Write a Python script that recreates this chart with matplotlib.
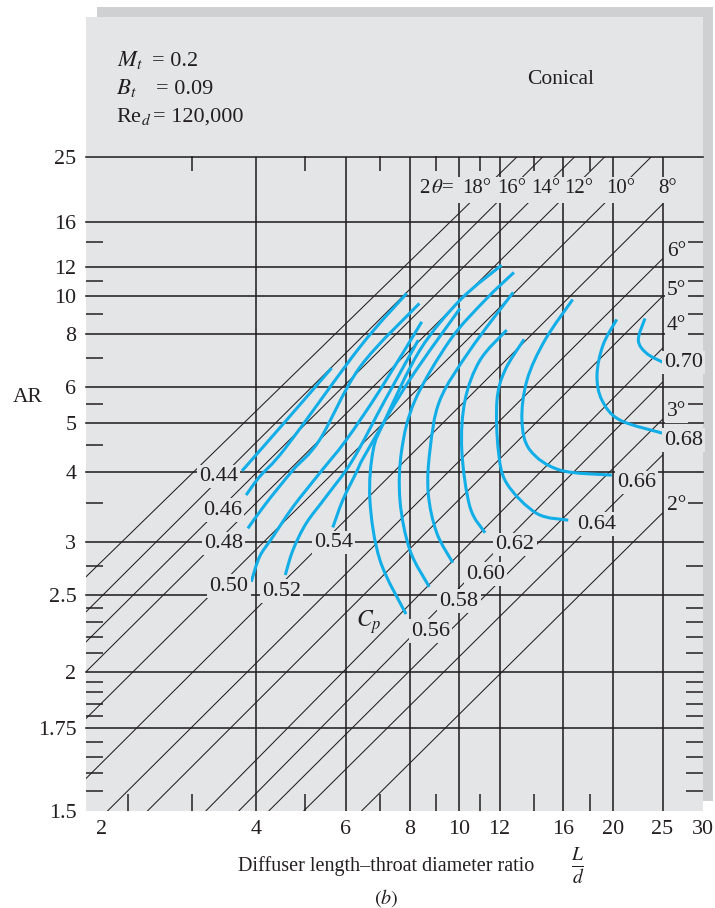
import numpy as np
import matplotlib

matplotlib.use("Agg")
import matplotlib.pyplot as plt
from matplotlib.patches import PathPatch, Rectangle
from matplotlib.path import Path
from matplotlib.ticker import FixedFormatter, FixedLocator, NullFormatter

plt.rcParams["font.family"] = ["Liberation Serif", "DejaVu Serif"]
plt.rcParams["mathtext.fontset"] = "stix"

# --- axis values -----------------------------------------------------------
x_ticks = [2, 4, 6, 8, 10, 12, 16, 20, 25, 30]
x_grid = [4, 6, 8, 10, 12, 16, 20, 25]
x_minor_bottom = [2.25, 3, 5, 7, 9, 11, 14, 18]
x_minor_top = [3, 5, 7, 9, 11, 14, 18]
ar_ticks = [1.5, 1.75, 2, 2.5, 3, 4, 5, 6, 8, 10, 12, 16, 25]
ar_grid = [1.75, 2, 2.5, 3, 4, 5, 6, 8, 10, 12, 16, 25]
ar_minor = [1.55, 1.6, 1.65, 1.7, 1.8, 1.85, 1.9, 1.95, 2.1, 2.2, 2.3, 2.4,
            2.75, 3.5, 4.5, 5.5, 7, 9, 11, 14]

# --- cone angle lines 2θ: lower-left end and upper-right end (L/d, AR) ------
angle_deg = [18, 16, 14, 12, 10, 8, 6, 5, 4, 3.5, 3, 2.5, 2]
angle_ld0 = [1.862, 1.862, 1.862, 1.862, 1.862, 1.862,
             2.054, 2.459, 3.198, 3.71, 4.247, 4.97, 6.45]
angle_ar0 = [2.654, 2.369, 2.168, 2.0, 1.788, 1.585,
             1.5, 1.5, 1.5, 1.5, 1.5, 1.5, 1.5]
angle_ld1 = [13.0, 14.6, 16.85, 19.3, 23.8, 25, 25, 25, 25, 25, 25, 25, 25]
angle_ar1 = [25, 25, 25, 25, 25, 18.0, 12.6, 10.0, 7.4, 6.16, 5.1, 4.305, 3.36]
top_angle_labels = ["18°", "16°", "14°", "12°", "10°", "8°"]
side_angle_labels = ["6°", "5°", "4°", "3°", "2°"]

# --- pressure recovery contours Cp -------------------------------------------
cp_levels = ["0.44", "0.46", "0.48", "0.50", "0.52", "0.54", "0.56",
             "0.58", "0.60", "0.62", "0.64", "0.66", "0.68", "0.70"]
cp_ld = [
    [3.76, 4.61, 5.63],
    [3.83, 4.07, 4.59, 6.40, 7.90],
    [3.86, 4.19, 4.73, 5.33, 6.40, 8.36],
    [3.92, 4.07, 4.32, 4.73, 5.33, 6.01, 7.0, 8.45],
    [4.57, 4.73, 5.02, 5.49, 6.19, 7.16, 8.32],
    [5.66, 5.92, 6.28, 6.57, 8.0, 10.04],
    [7.87, 7.0, 6.69, 6.79, 7.16, 8.38, 10.04, 12.11],
    [8.74, 8.01, 7.66, 7.72, 8.2, 9.6, 11.24, 12.8],
    [9.72, 9.04, 8.70, 8.77, 9.17, 10.5, 12.76],
    [11.24, 10.5, 10.12, 10.27, 10.99, 12.39],
    [16.35, 14.18, 12.39, 11.93, 11.86, 12.3, 13.4],
    [19.89, 15.75, 13.76, 13.27, 13.58, 14.72, 16.68],
    [25.17, 20.64, 19.03, 18.61, 19.12, 20.34],
    [25.17, 23.28, 22.42, 23.1],
]
cp_ar = [
    [4.01, 5.10, 6.64],
    [3.615, 3.91, 4.47, 7.46, 10.18],
    [3.163, 3.494, 4.025, 4.614, 6.68, 9.58],
    [2.61, 2.847, 3.063, 3.443, 3.967, 4.614, 5.91, 8.60],
    [2.67, 2.916, 3.225, 3.59, 4.209, 5.61, 7.745],
    [3.175, 3.54, 3.967, 4.339, 6.23, 9.30],
    [2.353, 2.812, 3.54, 4.405, 5.08, 7.32, 9.77, 12.11],
    [2.566, 2.916, 3.54, 4.405, 5.61, 7.745, 9.77, 11.57],
    [2.786, 3.11, 3.646, 4.405, 5.61, 7.32, 10.24],
    [3.11, 3.443, 4.405, 5.61, 6.93, 8.20],
    [3.266, 3.355, 3.80, 4.405, 5.61, 6.566, 7.78],
    [3.937, 4.025, 4.405, 5.08, 6.23, 7.745, 9.81],
    [4.76, 5.08, 5.61, 6.39, 7.53, 8.72],
    [6.83, 7.19, 7.745, 8.77],
]

# label anchors (L/d, AR)
cp_label_pos = [(3.383, 3.909), (3.447, 3.399), (3.461, 2.988), (3.547, 2.572),
                (4.497, 2.530), (5.673, 2.997), (8.79, 2.236), (9.995, 2.450),
                (11.25, 2.678), (12.86, 2.975), (18.58, 3.216), (22.25, 3.812),
                (27.51, 4.614), (27.45, 6.84)]
top_angle_pos = [10.84, 12.69, 14.79, 17.16, 20.69, 25.63]
side_angle_ar = [13.18, 10.38, 8.44, 5.293, 3.468]

BG = "#e4e5e7"
SHADOW = "#cfd0d2"
INK = "#231f20"
BLUE = "#12aee8"
W, H = 715, 908


def ar_fwd(a):
    a = np.clip(np.asarray(a, dtype=float), 1.0001, None)
    return np.log(np.sqrt(a) - 1.0)


def ar_inv(u):
    return (np.exp(np.asarray(u, dtype=float)) + 1.0) ** 2


def smooth_path(lds, ars):
    # Catmull-Rom through the read points, as cubic Bezier segments
    # in the chart's own (log L/d, ln(sqrt(AR)-1)) space.
    p = np.column_stack([np.log(lds), ar_fwd(ars)])
    ext = np.vstack([p[0], p, p[-1]])
    verts = [p[0]]
    codes = [Path.MOVETO]
    for i in range(len(p) - 1):
        p0, p1, p2, p3 = ext[i], ext[i + 1], ext[i + 2], ext[i + 3]
        verts += [p1 + (p2 - p0) / 6.0, p2 - (p3 - p1) / 6.0, p2]
        codes += [Path.CURVE4] * 3
    verts = np.array(verts)
    data = np.column_stack([np.exp(verts[:, 0]), ar_inv(verts[:, 1])])
    return Path(data, codes)


def fig_rect(x0, y0, x1, y1):
    return (x0 / W, 1 - y1 / H), (x1 - x0) / W, (y1 - y0) / H


def fig_text(x, y, s, **kw):
    fig.text(x / W, 1 - y / H, s, **kw)


fig = plt.figure(figsize=(W / 100, H / 100), dpi=100)
for (x0, y0, x1, y1), c in [((97, 7, 713, 801), SHADOW), ((86, 17, 703, 811), BG)]:
    xy, w, h = fig_rect(x0, y0, x1, y1)
    fig.add_artist(Rectangle(xy, w, h, transform=fig.transFigure, fc=c, ec="none", zorder=0))

(ax_l, ax_b), ax_w, ax_h = fig_rect(86, 156.5, 703, 810.7)
ax = fig.add_axes([ax_l, ax_b, ax_w, ax_h])
ax.set_facecolor(BG)
ax.set_xscale("log")
ax.set_yscale("function", functions=(ar_fwd, ar_inv))
ax.set_xlim(1.862, 30)
ax.set_ylim(1.5, 25)
for s in ax.spines.values():
    s.set_visible(False)

for v in x_grid:
    ax.axvline(v, color=INK, lw=1.15, zorder=1)
for a in ar_grid:
    ax.axhline(a, color=INK, lw=1.15, zorder=1, clip_on=False)

for ld0, ar0, ld1, ar1 in zip(angle_ld0, angle_ar0, angle_ld1, angle_ar1):
    ax.plot([ld0, ld1], [ar0, ar1], color=INK, lw=0.75, zorder=1.5)

# blank band behind the 2θ labels
ax.add_patch(Rectangle((8.12, 18.1), 30 - 8.12, 21.7 - 18.1, fc=BG, ec="none", zorder=2))

for lds, ars in zip(cp_ld, cp_ar):
    ax.add_patch(PathPatch(smooth_path(lds, ars), fill=False, ec=BLUE, lw=2.2,
                           capstyle="butt", joinstyle="round", zorder=3))

label_box = dict(boxstyle="square,pad=0.1", fc=BG, ec="none")
for txt, (lx, ly) in zip(cp_levels, cp_label_pos):
    ax.text(lx, ly, txt, ha="center", va="center", fontsize=16, color=INK,
            bbox=label_box, zorder=4)
ax.text(6.66, 2.297, r"$C_p$", ha="center", va="center", fontsize=17, color=INK, zorder=4)

ax.text(9.04, 20.08, r"2$\,\theta$=", ha="center", va="center", fontsize=15, color=INK, zorder=4)
for name, lx in zip(top_angle_labels, top_angle_pos):
    ax.text(lx, 20.08, name, ha="center", va="center", fontsize=15, color=INK, zorder=4)
for name, ly in zip(side_angle_labels, side_angle_ar):
    ax.text(25.51, ly, name, ha="left", va="center", fontsize=15.5, color=INK,
            bbox=label_box, zorder=4)

# ticks
ax.xaxis.set_major_locator(FixedLocator(x_ticks))
ax.xaxis.set_major_formatter(FixedFormatter([str(v) for v in x_ticks]))
ax.xaxis.set_minor_locator(FixedLocator(x_minor_bottom))
ax.xaxis.set_minor_formatter(NullFormatter())
ax.yaxis.set_major_locator(FixedLocator(ar_ticks))
ax.yaxis.set_major_formatter(FixedFormatter([f"{v:g}" for v in ar_ticks]))
ax.yaxis.set_minor_locator(FixedLocator(ar_minor))
ax.yaxis.set_minor_formatter(NullFormatter())
ax.tick_params(axis="both", which="major", length=0, labelsize=15.8, colors=INK)
ax.tick_params(axis="x", which="major", pad=7)
ax.tick_params(axis="y", which="major", pad=7)
ax.tick_params(axis="x", which="minor", direction="in", length=12, width=1.1, color=INK,
               bottom=True, top=False)
ax.tick_params(axis="y", which="minor", direction="in", length=12, width=1.1, color=INK,
               left=True, right=True)

sec = ax.secondary_xaxis("top")
sec.xaxis.set_major_locator(FixedLocator([]))
sec.xaxis.set_minor_locator(FixedLocator(x_minor_top))
sec.xaxis.set_minor_formatter(NullFormatter())
sec.tick_params(which="minor", direction="in", length=11, width=1.1, color=INK)
for s in sec.spines.values():
    s.set_visible(False)

# header and captions
fig_text(117, 66, r"$M_t$", fontsize=16.5, color=INK, va="baseline")
fig_text(152, 66, "= 0.2", fontsize=16, color=INK, va="baseline")
fig_text(116, 94, r"$B_t$", fontsize=16.5, color=INK, va="baseline")
fig_text(156, 94, "= 0.09", fontsize=16, color=INK, va="baseline")
fig_text(116, 122, r"Re$_d$", fontsize=16, color=INK, va="baseline")
fig_text(153, 122, "= 120,000", fontsize=16, color=INK, va="baseline")
fig_text(561, 79, "Conical", fontsize=15.5, color=INK, ha="center", va="center")
fig_text(28, 397, "AR", fontsize=15.5, color=INK, ha="center", va="center")
fig_text(386, 866, "Diffuser length\u2013throat diameter ratio", fontsize=14.5, color=INK,
         ha="center", va="center")
fig_text(578, 867, r"$\frac{L}{d}$", fontsize=20, color=INK, ha="center", va="center")
fig_text(386, 898, r"$(b)$", fontsize=14.5, color=INK, ha="center", va="center")

fig.savefig("out.png", dpi=100)
